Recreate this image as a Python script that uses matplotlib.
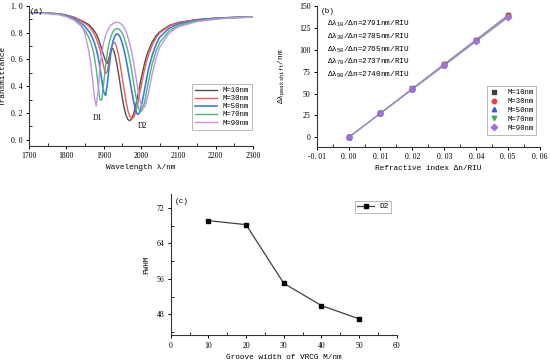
import numpy as np
import matplotlib.pyplot as plt
from matplotlib.ticker import MultipleLocator

plt.rcParams["font.family"] = ["Liberation Serif", "DejaVu Serif"]
plt.rcParams["mathtext.fontset"] = "custom"
plt.rcParams["mathtext.rm"] = "Liberation Mono"
plt.rcParams["mathtext.it"] = "Liberation Mono"
MONO = ["Liberation Mono", "DejaVu Sans Mono"]
FS = 5.6

# ---- (a) transmission spectra ----
wl = [1700, 1750, 1780, 1800, 1820, 1840, 1850, 1860, 1865, 1870, 1875, 1880,
      1885, 1890, 1895, 1900, 1905, 1910, 1915, 1920, 1925, 1930, 1935, 1940,
      1945, 1950, 1955, 1960, 1965, 1970, 1975, 1980, 1985, 1990, 1995, 2000,
      2005, 2010, 2015, 2020, 2030, 2040, 2050, 2075, 2100, 2150, 2200, 2250, 2300]
t_m10 = [0.947, 0.945, 0.940, 0.930, 0.915, 0.890, 0.875, 0.860, 0.845, 0.830, 0.812, 0.790,
         0.760, 0.720, 0.675, 0.630, 0.590, 0.570, 0.620, 0.675, 0.680, 0.640, 0.570, 0.490,
         0.400, 0.310, 0.235, 0.180, 0.150, 0.142, 0.155, 0.190, 0.245, 0.310, 0.380, 0.450,
         0.515, 0.575, 0.625, 0.665, 0.730, 0.775, 0.805, 0.852, 0.876, 0.897, 0.908, 0.914, 0.918]
t_m30 = [0.947, 0.945, 0.940, 0.930, 0.913, 0.885, 0.868, 0.848, 0.832, 0.812, 0.788, 0.758,
         0.720, 0.672, 0.612, 0.545, 0.495, 0.510, 0.600, 0.680, 0.725, 0.725, 0.690, 0.630,
         0.550, 0.460, 0.370, 0.285, 0.215, 0.175, 0.158, 0.165, 0.200, 0.255, 0.325, 0.395,
         0.465, 0.530, 0.585, 0.630, 0.705, 0.760, 0.797, 0.848, 0.874, 0.896, 0.907, 0.913, 0.918]
t_m50 = [0.947, 0.944, 0.938, 0.927, 0.905, 0.870, 0.845, 0.810, 0.790, 0.760, 0.725, 0.680,
         0.620, 0.540, 0.445, 0.355, 0.330, 0.420, 0.550, 0.665, 0.735, 0.775, 0.790, 0.785,
         0.760, 0.720, 0.665, 0.600, 0.525, 0.445, 0.365, 0.290, 0.225, 0.190, 0.195, 0.240,
         0.305, 0.380, 0.455, 0.525, 0.630, 0.710, 0.765, 0.832, 0.864, 0.892, 0.905, 0.912, 0.917]
t_m70 = [0.947, 0.943, 0.936, 0.922, 0.895, 0.850, 0.815, 0.765, 0.730, 0.685, 0.620, 0.530,
         0.415, 0.300, 0.295, 0.420, 0.550, 0.655, 0.725, 0.775, 0.808, 0.825, 0.830, 0.828,
         0.815, 0.795, 0.760, 0.715, 0.660, 0.595, 0.520, 0.430, 0.345, 0.270, 0.225, 0.210,
         0.230, 0.285, 0.360, 0.435, 0.565, 0.660, 0.725, 0.812, 0.853, 0.887, 0.903, 0.911, 0.917]
t_m90 = [0.947, 0.942, 0.933, 0.918, 0.895, 0.860, 0.790, 0.665, 0.580, 0.460, 0.320, 0.250,
         0.360, 0.530, 0.650, 0.725, 0.775, 0.812, 0.838, 0.856, 0.867, 0.874, 0.876, 0.875,
         0.868, 0.855, 0.835, 0.805, 0.765, 0.715, 0.655, 0.580, 0.495, 0.405, 0.325, 0.265,
         0.238, 0.245, 0.285, 0.350, 0.490, 0.605, 0.690, 0.795, 0.843, 0.882, 0.900, 0.910, 0.916]
spectra = [t_m10, t_m30, t_m50, t_m70, t_m90]
labels = ["M=10nm", "M=30nm", "M=50nm", "M=70nm", "M=90nm"]
colors = ["#505050", "#ee5a52", "#3d7fd8", "#4cb874", "#c790e6"]

# ---- (b) dip shift vs refractive index change ----
dn = [0.0, 0.01, 0.02, 0.03, 0.04, 0.05]
shift_m10 = [0.0, 27.9, 55.8, 83.7, 111.6, 139.5]
shift_m30 = [0.0, 27.8, 55.7, 83.5, 111.4, 139.2]
shift_m50 = [0.0, 27.6, 55.3, 82.9, 110.6, 138.2]
shift_m70 = [0.0, 27.4, 54.7, 82.1, 109.5, 136.9]
shift_m90 = [0.0, 27.4, 54.8, 82.2, 109.6, 137.0]
shifts = [shift_m10, shift_m30, shift_m50, shift_m70, shift_m90]
markers = ["s", "o", "^", "v", "D"]
mcolors = ["#404040", "#e8453c", "#2f5fd0", "#3caa50", "#a070e0"]
sens_sub = ["10", "30", "50", "70", "90"]
sens_val = [2791, 2785, 2765, 2737, 2740]

# ---- (c) FWHM of D2 vs groove width ----
groove = [10, 20, 30, 40, 50]
fwhm = [69.1, 68.2, 55.0, 50.0, 47.0]


def style_axes(ax):
    ax.spines["top"].set_visible(False)
    ax.spines["right"].set_visible(False)
    for s in ("left", "bottom"):
        ax.spines[s].set_linewidth(0.8)
        ax.spines[s].set_color("#333333")
    ax.tick_params(which="major", direction="out", length=2.5, width=0.7, labelsize=FS, pad=2)
    ax.tick_params(which="minor", direction="in", length=2, width=0.6)


def spaced(fmt):
    return plt.FuncFormatter(lambda v, p: (fmt % v).replace(".", ". "))


fig = plt.figure(figsize=(5.5, 3.63), dpi=100)

# (a)
ax1 = fig.add_axes([0.0527, 0.5986, 0.4073, 0.3855])
for t, lab, c in zip(spectra, labels, colors):
    ax1.plot(wl, t, color=c, lw=1.0 if c != "#3d7fd8" else 1.2, label=lab)
ax1.set_xlim(1700, 2300)
ax1.set_ylim(-0.045, 1.0)
ax1.xaxis.set_major_locator(MultipleLocator(100))
ax1.xaxis.set_minor_locator(MultipleLocator(50))
ax1.yaxis.set_major_locator(MultipleLocator(0.2))
ax1.yaxis.set_minor_locator(MultipleLocator(0.1))
ax1.yaxis.set_major_formatter(spaced("%.1f"))
style_axes(ax1)
ax1.set_xlabel("Wavelength λ/nm", family=MONO, fontsize=FS, labelpad=3)
ax1.set_ylabel("Transmittance", family=MONO, fontsize=FS)
ax1.yaxis.set_label_coords(-0.1, 0.5)
ax1.text(0.005, 0.985, "(a)", transform=ax1.transAxes, fontsize=FS, va="top", ha="left", family=MONO)
ax1.text(1883, 0.165, "D1", fontsize=FS, ha="center", va="center")
ax1.text(2003, 0.105, "D2", fontsize=FS, ha="center", va="center")
leg = ax1.legend(loc="lower right", bbox_to_anchor=(1.01, 0.09),
                 prop={"family": MONO, "size": FS - 0.4}, frameon=True, fancybox=False,
                 edgecolor="#999999", handlelength=3.0, labelspacing=0.15, borderpad=0.4,
                 handletextpad=0.8)
leg.get_frame().set_linewidth(0.6)

# (b)
ax2 = fig.add_axes([0.5758, 0.596, 0.406, 0.388])
for y, lab, m, c in zip(shifts, labels, markers, mcolors):
    ax2.plot(dn, y, color="#9a8fb8", lw=0.7, zorder=1)
    ax2.plot(dn, y, ls="none", marker=m, ms=3.2, color=c, label=lab, zorder=2)
ax2.set_xlim(-0.01, 0.06)
ax2.set_ylim(-10.5, 150)
ax2.xaxis.set_major_locator(MultipleLocator(0.01))
ax2.xaxis.set_minor_locator(MultipleLocator(0.005))
ax2.yaxis.set_major_locator(MultipleLocator(25))
ax2.xaxis.set_major_formatter(spaced("%.2f"))
style_axes(ax2)
ax2.set_xlabel("Refractive index Δn/RIU", family=MONO, fontsize=FS, labelpad=3)
ax2.set_ylabel(r"$\mathregular{Δλ_{peak\ shift}}$/nm", family=MONO, fontsize=FS)
ax2.yaxis.set_label_coords(-0.134, 0.5)
ax2.text(0.018, 0.985, "(b)", transform=ax2.transAxes, fontsize=FS, va="top", ha="left", family=MONO)
for i, (sub, val) in enumerate(zip(sens_sub, sens_val)):
    ax2.text(0.045, 0.87 - i * 0.09, r"$\mathregular{Δλ_{%s}}$/Δn=%dnm/RIU" % (sub, val),
             transform=ax2.transAxes, fontsize=FS, va="center", ha="left", family=MONO)
leg2 = ax2.legend(loc="lower right", bbox_to_anchor=(1.0, 0.06), prop={"family": MONO, "size": FS - 0.4},
                  frameon=True, fancybox=False, edgecolor="#999999", labelspacing=0.25,
                  borderpad=0.4, handletextpad=1.2, handlelength=1.2)
leg2.get_frame().set_linewidth(0.6)

# (c)
ax3 = fig.add_axes([0.3104, 0.0763, 0.4109, 0.3893])
ax3.plot(groove, fwhm, color="#404040", lw=0.9, marker="s", ms=3.3, mfc="black", mec="black", label="D2")
ax3.set_xlim(0, 60)
ax3.set_ylim(43.3, 75.1)
ax3.xaxis.set_major_locator(MultipleLocator(10))
ax3.xaxis.set_minor_locator(MultipleLocator(5))
ax3.yaxis.set_major_locator(MultipleLocator(8))
ax3.yaxis.set_minor_locator(MultipleLocator(4))
style_axes(ax3)
ax3.set_xlabel("Groove width of VRCG M/nm", family=MONO, fontsize=FS, labelpad=3)
ax3.set_ylabel("FWHM", family=MONO, fontsize=FS)
ax3.yaxis.set_label_coords(-0.092, 0.5)
ax3.text(0.02, 0.97, "(c)", transform=ax3.transAxes, fontsize=FS, va="top", ha="left", family=MONO)
leg3 = ax3.legend(loc="upper right", bbox_to_anchor=(0.99, 0.98), prop={"family": MONO, "size": FS},
                  frameon=True, fancybox=False, edgecolor="#999999", borderpad=0.3,
                  handlelength=2.2, handletextpad=0.6)
leg3.get_frame().set_linewidth(0.6)

fig.savefig("out.png", dpi=100)
